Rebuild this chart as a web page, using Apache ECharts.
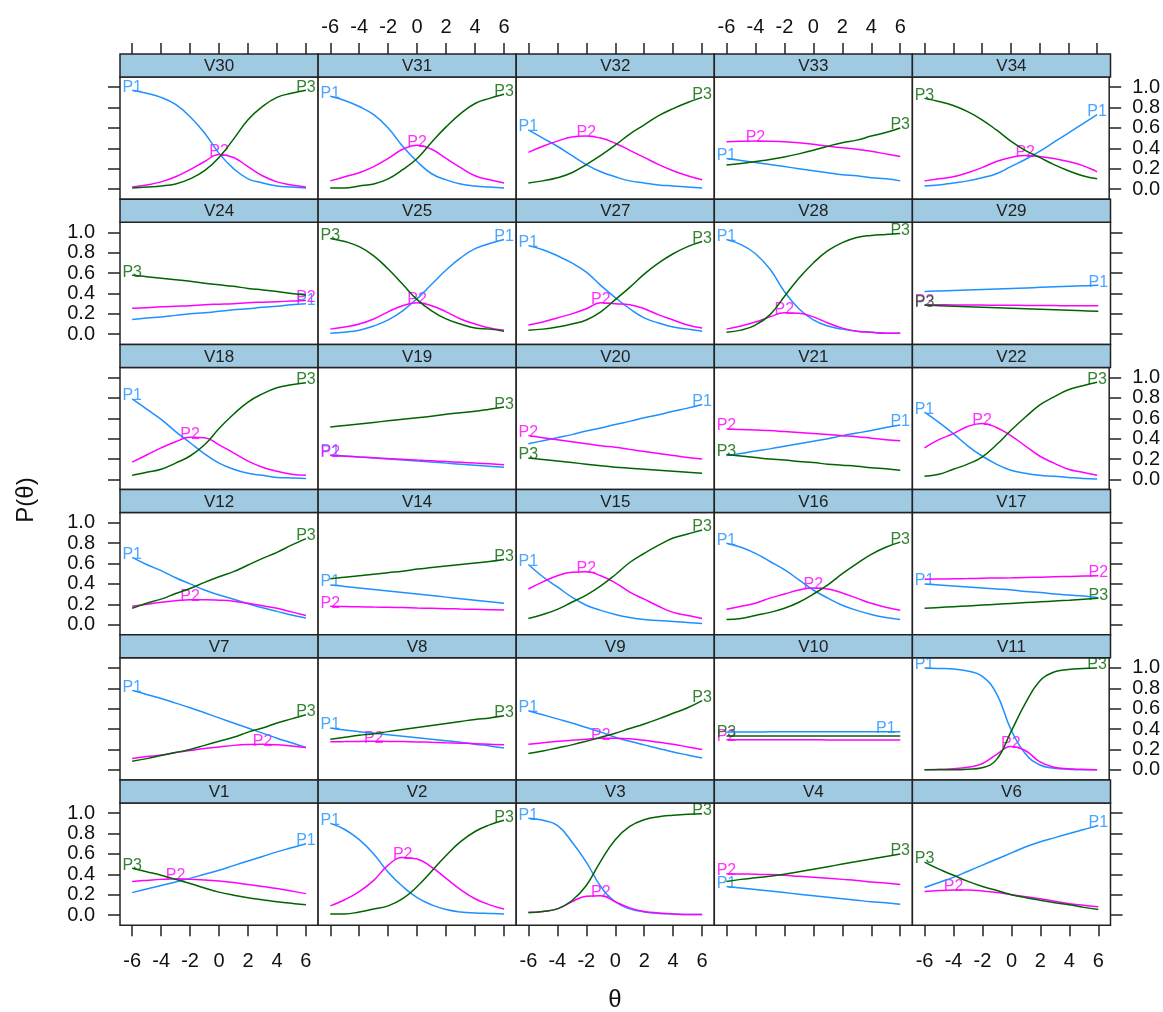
<!DOCTYPE html>
<html>
<head>
<meta charset="utf-8">
<script src="https://cdn.jsdelivr.net/npm/echarts@6/dist/echarts.min.js"></script>
<style>
  html, body { margin: 0; padding: 0; background: #fff; }
  #chart { width: 1163px; height: 1012px; }
</style>
</head>
<body>
<div id="chart"></div>
<script>
// panels in display order, top row first
const panels = [
  'V30', 'V31', 'V32', 'V33', 'V34',
  'V24', 'V25', 'V27', 'V28', 'V29',
  'V18', 'V19', 'V20', 'V21', 'V22',
  'V12', 'V14', 'V15', 'V16', 'V17',
  'V7', 'V8', 'V9', 'V10', 'V11',
  'V1', 'V2', 'V3', 'V4', 'V6'
]
const theta = [-6, -5, -4, -3, -2, -1, 0, 1, 2, 3, 4, 5, 6]
const xTicks = [-6, -4, -2, 0, 2, 4, 6]
const yTicks = [0, 0.2, 0.4, 0.6, 0.8, 1.0]
const curveNames = ['P1', 'P2', 'P3']

// P(theta), one row per panel
const P1 = [
  [0.97, 0.94, 0.90, 0.83, 0.71, 0.55, 0.35, 0.20, 0.10, 0.06, 0.03, 0.02, 0.01], // V30
  [0.91, 0.87, 0.81, 0.73, 0.60, 0.42, 0.27, 0.15, 0.09, 0.05, 0.03, 0.02, 0.01], // V31
  [0.58, 0.50, 0.42, 0.33, 0.24, 0.17, 0.12, 0.08, 0.06, 0.04, 0.03, 0.02, 0.01], // V32
  [0.30, 0.28, 0.26, 0.24, 0.22, 0.20, 0.18, 0.16, 0.14, 0.13, 0.11, 0.10, 0.08], // V33
  [0.03, 0.04, 0.06, 0.08, 0.11, 0.15, 0.22, 0.29, 0.37, 0.46, 0.55, 0.64, 0.73], // V34
  [0.145, 0.16, 0.17, 0.185, 0.20, 0.21, 0.225, 0.24, 0.25, 0.265, 0.275, 0.29, 0.30], // V24
  [0.01, 0.02, 0.04, 0.08, 0.14, 0.23, 0.35, 0.49, 0.63, 0.75, 0.84, 0.89, 0.93], // V25
  [0.87, 0.83, 0.77, 0.70, 0.61, 0.48, 0.36, 0.25, 0.16, 0.11, 0.07, 0.05, 0.03], // V27
  [0.93, 0.88, 0.79, 0.64, 0.42, 0.25, 0.14, 0.08, 0.05, 0.03, 0.02, 0.01, 0.01], // V28
  [0.42, 0.425, 0.43, 0.435, 0.44, 0.445, 0.45, 0.455, 0.46, 0.465, 0.47, 0.475, 0.48], // V29
  [0.79, 0.69, 0.59, 0.47, 0.36, 0.25, 0.16, 0.10, 0.06, 0.04, 0.02, 0.015, 0.01], // V18
  [0.24, 0.23, 0.22, 0.21, 0.20, 0.19, 0.18, 0.17, 0.16, 0.15, 0.14, 0.13, 0.12], // V19
  [0.35, 0.38, 0.41, 0.44, 0.475, 0.505, 0.54, 0.57, 0.605, 0.635, 0.67, 0.70, 0.735], // V20
  [0.235, 0.255, 0.28, 0.30, 0.325, 0.35, 0.375, 0.40, 0.43, 0.455, 0.48, 0.51, 0.535], // V21
  [0.66, 0.56, 0.45, 0.33, 0.23, 0.15, 0.09, 0.06, 0.04, 0.03, 0.02, 0.01, 0.005], // V22
  [0.66, 0.59, 0.53, 0.46, 0.40, 0.34, 0.29, 0.25, 0.205, 0.165, 0.13, 0.095, 0.065], // V12
  [0.39, 0.375, 0.36, 0.345, 0.33, 0.315, 0.30, 0.285, 0.27, 0.255, 0.24, 0.225, 0.21], // V14
  [0.59, 0.47, 0.37, 0.27, 0.19, 0.14, 0.10, 0.07, 0.05, 0.04, 0.03, 0.02, 0.01], // V15
  [0.80, 0.76, 0.70, 0.62, 0.54, 0.44, 0.34, 0.26, 0.19, 0.14, 0.10, 0.07, 0.05], // V16
  [0.40, 0.39, 0.38, 0.37, 0.36, 0.35, 0.34, 0.325, 0.315, 0.30, 0.29, 0.28, 0.265], // V17
  [0.78, 0.74, 0.70, 0.655, 0.61, 0.56, 0.51, 0.46, 0.41, 0.36, 0.31, 0.265, 0.22], // V7
  [0.41, 0.39, 0.375, 0.36, 0.345, 0.33, 0.315, 0.30, 0.285, 0.27, 0.25, 0.235, 0.215], // V8
  [0.58, 0.54, 0.50, 0.46, 0.415, 0.37, 0.32, 0.28, 0.245, 0.21, 0.175, 0.145, 0.115], // V9
  [0.372, 0.372, 0.372, 0.373, 0.373, 0.373, 0.373, 0.374, 0.374, 0.374, 0.374, 0.375, 0.375], // V10
  [1.0, 0.995, 0.99, 0.97, 0.92, 0.75, 0.40, 0.16, 0.05, 0.015, 0.005, 0.0, 0.0], // V11
  [0.22, 0.255, 0.29, 0.325, 0.36, 0.40, 0.44, 0.485, 0.53, 0.575, 0.62, 0.66, 0.70], // V1
  [0.90, 0.84, 0.74, 0.60, 0.42, 0.28, 0.17, 0.10, 0.055, 0.03, 0.02, 0.015, 0.01], // V2
  [0.95, 0.93, 0.88, 0.72, 0.52, 0.28, 0.13, 0.06, 0.03, 0.015, 0.01, 0.005, 0.005], // V3
  [0.28, 0.265, 0.25, 0.235, 0.22, 0.205, 0.19, 0.175, 0.16, 0.145, 0.13, 0.12, 0.105], // V4
  [0.27, 0.32, 0.37, 0.43, 0.49, 0.55, 0.61, 0.67, 0.72, 0.76, 0.80, 0.84, 0.88] // V6
]
const P2 = [
  [0.02, 0.04, 0.07, 0.12, 0.19, 0.27, 0.34, 0.31, 0.22, 0.13, 0.07, 0.04, 0.02], // V30
  [0.08, 0.12, 0.16, 0.22, 0.30, 0.39, 0.43, 0.39, 0.30, 0.21, 0.13, 0.09, 0.06], // V31
  [0.36, 0.42, 0.47, 0.51, 0.52, 0.50, 0.45, 0.38, 0.31, 0.24, 0.18, 0.13, 0.09], // V32
  [0.465, 0.47, 0.472, 0.47, 0.465, 0.455, 0.44, 0.42, 0.405, 0.39, 0.37, 0.345, 0.32], // V33
  [0.08, 0.10, 0.12, 0.16, 0.21, 0.27, 0.31, 0.33, 0.32, 0.30, 0.27, 0.23, 0.17], // V34
  [0.255, 0.26, 0.27, 0.275, 0.28, 0.29, 0.295, 0.30, 0.31, 0.315, 0.32, 0.325, 0.33], // V24
  [0.05, 0.07, 0.10, 0.15, 0.22, 0.28, 0.31, 0.28, 0.22, 0.15, 0.10, 0.06, 0.04], // V25
  [0.09, 0.12, 0.16, 0.20, 0.25, 0.31, 0.30, 0.29, 0.25, 0.19, 0.14, 0.09, 0.06], // V27
  [0.05, 0.08, 0.12, 0.17, 0.21, 0.205, 0.17, 0.11, 0.06, 0.03, 0.02, 0.01, 0.01], // V28
  [0.29, 0.289, 0.288, 0.287, 0.286, 0.285, 0.284, 0.283, 0.282, 0.281, 0.28, 0.28, 0.28], // V29
  [0.17, 0.24, 0.31, 0.37, 0.415, 0.41, 0.34, 0.26, 0.18, 0.12, 0.08, 0.05, 0.04], // V18
  [0.235, 0.228, 0.22, 0.213, 0.205, 0.198, 0.19, 0.183, 0.175, 0.168, 0.16, 0.153, 0.145], // V19
  [0.43, 0.41, 0.39, 0.37, 0.35, 0.33, 0.315, 0.295, 0.275, 0.255, 0.235, 0.215, 0.20], // V20
  [0.495, 0.49, 0.485, 0.48, 0.47, 0.46, 0.45, 0.44, 0.43, 0.42, 0.405, 0.39, 0.38], // V21
  [0.31, 0.39, 0.45, 0.52, 0.55, 0.51, 0.43, 0.33, 0.23, 0.16, 0.10, 0.07, 0.04], // V22
  [0.18, 0.20, 0.22, 0.235, 0.245, 0.245, 0.24, 0.23, 0.21, 0.185, 0.16, 0.125, 0.09], // V12
  [0.18, 0.178, 0.175, 0.172, 0.17, 0.167, 0.163, 0.16, 0.157, 0.153, 0.15, 0.147, 0.143], // V14
  [0.35, 0.42, 0.48, 0.515, 0.52, 0.48, 0.41, 0.32, 0.25, 0.18, 0.12, 0.09, 0.06], // V15
  [0.15, 0.18, 0.21, 0.26, 0.30, 0.34, 0.36, 0.35, 0.31, 0.26, 0.21, 0.17, 0.14], // V16
  [0.445, 0.448, 0.45, 0.452, 0.455, 0.458, 0.46, 0.463, 0.466, 0.47, 0.473, 0.477, 0.48], // V17
  [0.11, 0.13, 0.145, 0.17, 0.19, 0.21, 0.225, 0.24, 0.248, 0.25, 0.245, 0.235, 0.22], // V7
  [0.275, 0.277, 0.279, 0.28, 0.279, 0.277, 0.274, 0.27, 0.266, 0.262, 0.257, 0.251, 0.245], // V8
  [0.25, 0.265, 0.28, 0.29, 0.30, 0.31, 0.31, 0.305, 0.29, 0.27, 0.25, 0.225, 0.20], // V9
  [0.295, 0.295, 0.295, 0.295, 0.295, 0.295, 0.295, 0.294, 0.294, 0.294, 0.294, 0.294, 0.294], // V10
  [0.0, 0.005, 0.01, 0.025, 0.06, 0.15, 0.23, 0.19, 0.08, 0.025, 0.01, 0.005, 0.0], // V11
  [0.33, 0.34, 0.35, 0.355, 0.35, 0.345, 0.335, 0.32, 0.30, 0.28, 0.26, 0.235, 0.21], // V1
  [0.09, 0.15, 0.23, 0.34, 0.49, 0.565, 0.55, 0.47, 0.36, 0.25, 0.16, 0.10, 0.06], // V2
  [0.025, 0.035, 0.06, 0.13, 0.185, 0.19, 0.13, 0.07, 0.035, 0.02, 0.01, 0.005, 0.005], // V3
  [0.405, 0.403, 0.40, 0.397, 0.39, 0.38, 0.37, 0.36, 0.35, 0.34, 0.325, 0.315, 0.30], // V4
  [0.23, 0.24, 0.245, 0.245, 0.235, 0.22, 0.20, 0.18, 0.16, 0.135, 0.11, 0.095, 0.08] // V6
]
const P3 = [
  [0.01, 0.02, 0.03, 0.05, 0.10, 0.18, 0.31, 0.49, 0.68, 0.81, 0.90, 0.94, 0.97], // V30
  [0.01, 0.01, 0.03, 0.05, 0.10, 0.19, 0.30, 0.46, 0.61, 0.74, 0.84, 0.89, 0.93], // V31
  [0.06, 0.08, 0.11, 0.16, 0.24, 0.33, 0.43, 0.54, 0.63, 0.72, 0.79, 0.85, 0.90], // V32
  [0.235, 0.25, 0.27, 0.29, 0.315, 0.345, 0.38, 0.42, 0.455, 0.48, 0.52, 0.555, 0.60], // V33
  [0.89, 0.86, 0.82, 0.76, 0.68, 0.58, 0.47, 0.38, 0.31, 0.24, 0.18, 0.13, 0.10], // V34
  [0.58, 0.565, 0.55, 0.535, 0.52, 0.50, 0.485, 0.47, 0.45, 0.435, 0.42, 0.40, 0.385], // V24
  [0.94, 0.91, 0.86, 0.77, 0.64, 0.49, 0.34, 0.23, 0.15, 0.10, 0.06, 0.05, 0.03], // V25
  [0.04, 0.05, 0.07, 0.10, 0.14, 0.22, 0.34, 0.46, 0.59, 0.70, 0.79, 0.86, 0.91], // V27
  [0.02, 0.04, 0.09, 0.19, 0.37, 0.55, 0.70, 0.82, 0.90, 0.95, 0.97, 0.98, 0.99], // V28
  [0.285, 0.28, 0.275, 0.27, 0.265, 0.26, 0.255, 0.25, 0.245, 0.24, 0.235, 0.23, 0.225], // V29
  [0.04, 0.07, 0.10, 0.16, 0.23, 0.34, 0.50, 0.64, 0.76, 0.84, 0.90, 0.93, 0.95], // V18
  [0.515, 0.53, 0.545, 0.56, 0.575, 0.59, 0.605, 0.62, 0.64, 0.655, 0.67, 0.69, 0.71], // V19
  [0.21, 0.195, 0.18, 0.165, 0.15, 0.135, 0.12, 0.11, 0.10, 0.09, 0.08, 0.07, 0.06], // V20
  [0.245, 0.23, 0.215, 0.20, 0.19, 0.175, 0.165, 0.15, 0.14, 0.13, 0.115, 0.105, 0.09], // V21
  [0.03, 0.05, 0.10, 0.15, 0.22, 0.34, 0.48, 0.61, 0.73, 0.81, 0.88, 0.92, 0.955], // V22
  [0.16, 0.21, 0.25, 0.305, 0.355, 0.415, 0.47, 0.52, 0.585, 0.65, 0.71, 0.78, 0.845], // V12
  [0.45, 0.465, 0.48, 0.495, 0.51, 0.525, 0.545, 0.56, 0.575, 0.59, 0.605, 0.62, 0.64], // V14
  [0.06, 0.10, 0.15, 0.22, 0.29, 0.38, 0.49, 0.61, 0.70, 0.78, 0.85, 0.89, 0.93], // V15
  [0.05, 0.06, 0.09, 0.12, 0.16, 0.22, 0.30, 0.39, 0.50, 0.60, 0.69, 0.76, 0.81], // V16
  [0.16, 0.168, 0.176, 0.184, 0.192, 0.20, 0.208, 0.216, 0.224, 0.232, 0.24, 0.25, 0.26], // V17
  [0.085, 0.11, 0.14, 0.17, 0.20, 0.24, 0.28, 0.32, 0.37, 0.41, 0.46, 0.50, 0.54], // V7
  [0.30, 0.32, 0.34, 0.355, 0.375, 0.395, 0.415, 0.435, 0.455, 0.475, 0.495, 0.51, 0.53], // V8
  [0.16, 0.185, 0.215, 0.245, 0.28, 0.32, 0.36, 0.405, 0.45, 0.50, 0.555, 0.61, 0.68], // V9
  [0.333, 0.333, 0.333, 0.333, 0.332, 0.332, 0.332, 0.332, 0.332, 0.331, 0.331, 0.331, 0.331], // V10
  [0.0, 0.0, 0.0, 0.005, 0.02, 0.10, 0.37, 0.65, 0.87, 0.96, 0.985, 0.995, 1.0], // V11
  [0.46, 0.425, 0.39, 0.35, 0.31, 0.265, 0.225, 0.195, 0.17, 0.15, 0.13, 0.115, 0.10], // V1
  [0.01, 0.01, 0.03, 0.06, 0.09, 0.16, 0.28, 0.43, 0.585, 0.72, 0.82, 0.885, 0.93], // V2
  [0.025, 0.035, 0.06, 0.14, 0.29, 0.53, 0.74, 0.87, 0.935, 0.965, 0.98, 0.99, 0.995], // V3
  [0.33, 0.35, 0.365, 0.38, 0.40, 0.425, 0.45, 0.475, 0.50, 0.525, 0.55, 0.575, 0.60], // V4
  [0.52, 0.45, 0.39, 0.33, 0.28, 0.24, 0.20, 0.17, 0.145, 0.12, 0.10, 0.075, 0.055] // V6
]

const COLORS = ['#1e90ff', '#ff00ff', '#006400']
const FONT = '"Liberation Sans", Arial, sans-serif'
const NCOL = 5, NROW = 6
const LEFT0 = 120, COLW = 198.1, TOP0 = 54, ROWH = 145.2, STRIPH = 23
const BORDER = '#222'

const chart = echarts.init(document.getElementById('chart'))

const grid = [], xAxis = [], yAxis = [], series = [], graphic = []

panels.forEach((name, i) => {
  const r = Math.floor(i / NCOL), c = i % NCOL
  const x = LEFT0 + c * COLW, y = TOP0 + r * ROWH

  grid.push({
    left: x, top: y + STRIPH, width: COLW, height: ROWH - STRIPH,
    show: true, borderColor: BORDER, borderWidth: 1.5, backgroundColor: '#fff'
  })

  // strip with the panel name
  graphic.push({
    type: 'rect', z: 100,
    shape: { x, y, width: COLW, height: STRIPH },
    style: { fill: '#9fcae1', stroke: BORDER, lineWidth: 1.5 }
  })
  graphic.push({
    type: 'text', z: 101, x: x + COLW / 2, y: y + STRIPH / 2 + 1,
    style: { text: name, fill: '#222', fontSize: 17, fontFamily: FONT, align: 'center', verticalAlign: 'middle' }
  })

  // x axis: ticks on outer rows, labels alternating
  const xa = {
    gridIndex: i, type: 'value', min: -6.84, max: 6.84,
    splitLine: { show: false }, axisLine: { show: false, onZero: false },
    axisTick: { show: false }, axisLabel: { show: false }
  }
  if (r === 0 || r === NROW - 1) {
    const top = r === 0
    xa.position = top ? 'top' : 'bottom'
    if (top) xa.offset = STRIPH
    xa.axisTick = { show: true, inside: false, length: 11, customValues: xTicks, lineStyle: { color: BORDER, width: 1.5 } }
    xa.axisLabel = {
      show: top ? c % 2 === 1 : c % 2 === 0,
      customValues: xTicks, fontSize: 20, color: '#111', fontFamily: FONT, margin: top ? 17 : 26
    }
  }
  xAxis.push(xa)

  // y axis: ticks on outer columns, labels alternating by row
  const ya = {
    gridIndex: i, type: 'value', min: -0.1, max: 1.1,
    splitLine: { show: false }, axisLine: { show: false, onZero: false },
    axisTick: { show: false }, axisLabel: { show: false }
  }
  if (c === 0 || c === NCOL - 1) {
    const leftSide = c === 0
    ya.position = leftSide ? 'left' : 'right'
    ya.axisTick = { show: true, inside: false, length: 12, customValues: yTicks, lineStyle: { color: BORDER, width: 1.5 } }
    ya.axisLabel = {
      show: leftSide ? r % 2 === 1 : r % 2 === 0,
      customValues: yTicks, fontSize: 20, color: '#111', fontFamily: FONT,
      margin: leftSide ? 25 : 23,
      formatter: v => v.toFixed(1)
    }
  }
  yAxis.push(ya)

  const curves = [P1[i], P2[i], P3[i]]
  curves.forEach((vals, k) => {
    series.push({
      type: 'line', xAxisIndex: i, yAxisIndex: i,
      data: theta.map((t, j) => [t, vals[j]]),
      smooth: 0.45, symbol: 'none', silent: true,
      lineStyle: { color: COLORS[k], width: 1.5 }
    })
  })

  // direct labels at the top of each curve
  series.push({
    type: 'scatter', xAxisIndex: i, yAxisIndex: i, silent: true,
    symbolSize: 1, itemStyle: { color: 'rgba(0,0,0,0)' },
    label: { show: true, position: 'inside', offset: [0, -3], fontSize: 16, fontFamily: FONT },
    data: curves.map((vals, k) => {
      let m = 0
      vals.forEach((v, j) => { if (v > vals[m]) m = j })
      return { value: [theta[m], vals[m]], label: { formatter: curveNames[k], color: COLORS[k] } }
    })
  })
})

graphic.push({
  type: 'text', x: 26, y: 500, rotation: Math.PI / 2,
  style: { text: 'P(θ)', fill: '#111', fontSize: 24, fontFamily: FONT, align: 'center', verticalAlign: 'middle' }
})
graphic.push({
  type: 'text', x: 615, y: 1000,
  style: { text: 'θ', fill: '#111', fontSize: 24, fontFamily: FONT, align: 'center', verticalAlign: 'middle' }
})

chart.setOption({
  backgroundColor: '#fff',
  animation: false,
  grid, xAxis, yAxis, series, graphic
})
window.addEventListener('resize', () => chart.resize())
</script>
</body>
</html>
